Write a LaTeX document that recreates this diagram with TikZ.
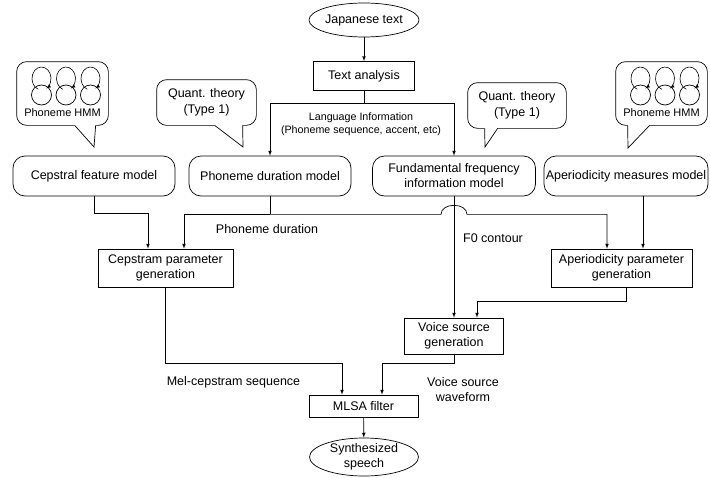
\documentclass[tikz,border=0pt]{standalone}
\usepackage{fontspec}
\setmainfont{Liberation Sans}
\usetikzlibrary{shapes,arrows,positioning}
\newcommand{\drawbubble}[4]{%
  \draw[rounded corners=10pt] ([xshift=#2]#1.south west) -| (#1.north west) -| (#1.south east) -- ([xshift=#3]#1.south west);
  \draw ([xshift=#2]#1.south west) -- #4 -- ([xshift=#3]#1.south west);}
\tikzstyle{model} = [draw, rounded corners=12pt, minimum width=162pt, minimum height=40pt, inner sep=1pt, align=center]
\tikzstyle{block} = [draw, rectangle, inner sep=1pt, align=center]
\tikzstyle{terminal} = [draw, ellipse, inner sep=0pt, align=center]
\tikzstyle{bubblebox} = [inner sep=0pt, align=center, font=\fontsize{12.5}{16}\selectfont]
\tikzstyle{small} = [font=\fontsize{10.7}{13.5}\selectfont, align=center]
\begin{document}
\begin{tikzpicture}[x=1pt, y=-1pt, font=\fontsize{12.5}{15}\selectfont, line width=0.7pt, >=latex]
\useasboundingbox (0,0) rectangle (710,477);
\node[terminal, minimum width=108pt, minimum height=34pt] (jtext) at (364,20) {Japanese text};
\node[block, minimum width=101pt, minimum height=29pt] (analysis) at (364,76) {Text analysis};
\node[model] (cepmodel) at (94,176) {Cepstral feature model};
\node[model] (durmodel) at (270,176) {Phoneme duration model};
\node[model, minimum width=163pt] (f0model) at (454,176) {Fundamental frequency\\information model};
\node[model, minimum width=164pt] (apmodel) at (626,176) {Aperiodicity measures model};
\node[block, minimum width=135pt, minimum height=38pt] (cepgen) at (165.5,268) {Cepstram parameter\\generation};
\node[block, minimum width=141pt, minimum height=38pt] (apgen) at (621.5,268) {Aperiodicity parameter\\generation};
\node[block, minimum width=99pt, minimum height=36pt] (vsgen) at (454,336) {Voice source\\generation};
\node[block, minimum width=109pt, minimum height=22pt] (mlsa) at (363.5,406) {MLSA filter};
\node[terminal, minimum width=109pt, minimum height=38pt] (speech) at (364,457) {Synthesized\\speech};

\node[bubblebox, minimum width=91pt, minimum height=63pt] (hmmcep) at (62.5,93.5) {};
\drawbubble{hmmcep}{58}{79}{(94,147)}
\node[bubblebox, minimum width=91pt, minimum height=63pt] (hmmap) at (661.5,93.5) {};
\drawbubble{hmmap}{12}{34}{(628,148)}
\node[bubblebox, minimum width=99pt, minimum height=45pt] (quantdur) at (206.5,102.5) {Quant. theory\\(Type 1)};
\drawbubble{quantdur}{58}{86}{(243,147)}
\node[bubblebox, minimum width=98pt, minimum height=45pt] (quantf0) at (517,105.5) {Quant. theory\\(Type 1)};
\drawbubble{quantf0}{17}{30}{(485,147)}
\foreach \b in {hmmcep,hmmap} {
  \foreach \dx in {-21,3.5,28} {
    \draw ([xshift=\dx,yshift=-1.5]\b.center) circle[radius=10pt];
    \draw[-latex, line width=0.6pt] ([xshift=\dx,yshift=15]\b.center) ++(250:9.5pt and 11.5pt) arc[start angle=250, end angle=-60, x radius=9.5pt, y radius=11.5pt];
  }
  \node[font=\fontsize{11}{13}\selectfont] (\b-label) at ([yshift=-19.5]\b.center) {Phoneme HMM};
}

\draw[->] (jtext) -- (analysis);
\draw (analysis.south) -- ++(0,12.5) coordinate (langsplit);
\draw[->] (langsplit) -| (durmodel);
\draw[->] (langsplit) -| (f0model);
\node[small] (langinfo) at (361,124) {Language Information\\(Phoneme sequence, accent, etc)};

\draw (cepmodel.south) -- ++(0,17) coordinate (cepjoin);
\draw[->] (cepjoin) -| ([xshift=-17.5]cepgen.north);
\draw (durmodel.south) -- ++(0,18) coordinate (durjoin);
\draw[->] (durjoin) -| ([xshift=18.5]cepgen.north);
\coordinate (hop) at (f0model.south |- durjoin);
\draw[->] (durjoin) -- ([xshift=-13]hop) .. controls ([xshift=-13,yshift=12]hop) and ([xshift=13,yshift=12]hop) .. ([xshift=13]hop) -| ([xshift=-14.5]apgen.north);
\node (durlabel) at (267,229) {Phoneme duration};

\draw[->] (f0model) -- (vsgen);
\node (f0label) at (493,238) {F0 contour};
\coordinate (apfeed) at ([xshift=17]apmodel.south);
\draw[->] (apfeed) -- (apfeed |- apgen.north);
\draw[->] ([xshift=4.5]apgen.south) -- ++(0,14) -| ([xshift=23]vsgen.north);

\draw[->] (cepgen.south) -- ++(0,76) -| ([xshift=-21.5]mlsa.north);
\draw[->] (vsgen.south) -- ++(0,9) -| ([xshift=18.5]mlsa.north);
\node (mellabel) at (233.5,382) {Mel-cepstram sequence};
\node[align=center] (wavelabel) at (463,389.5) {Voice source\\waveform};
\draw[->] (mlsa) -- (speech);
\end{tikzpicture}
\end{document}
